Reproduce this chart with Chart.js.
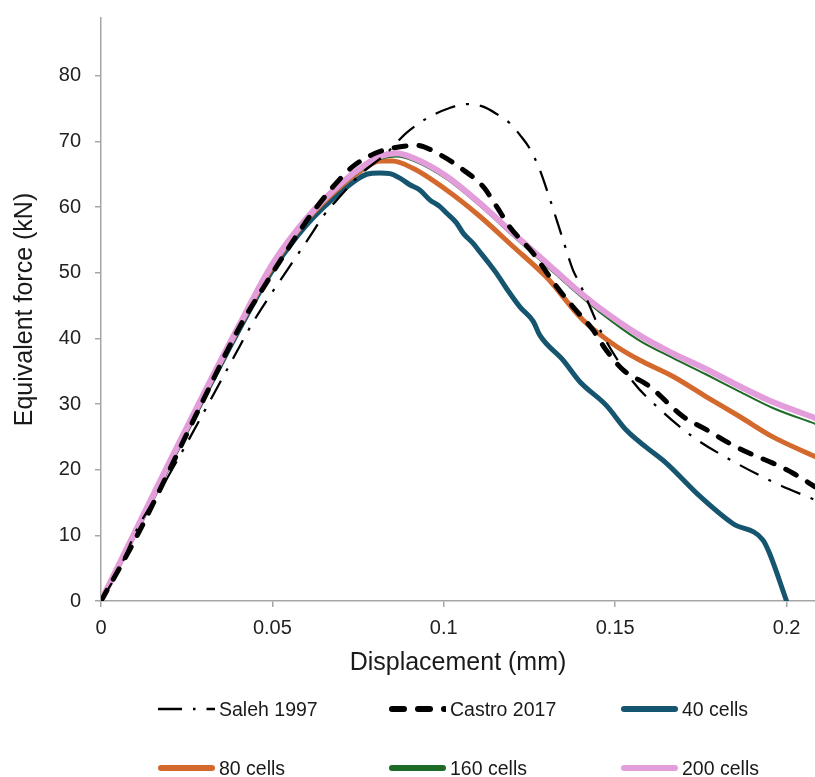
<!DOCTYPE html>
<html>
<head>
<meta charset="utf-8">
<script src="https://cdn.jsdelivr.net/npm/chart.js@4.4.1/dist/chart.umd.min.js"></script>
<style>
  html, body { margin: 0; padding: 0; background: #ffffff; }
  #wrap { position: relative; width: 815px; height: 777px; overflow: hidden; }
  #chart { position: absolute; left: 0; top: 0; }
  .lg { position: absolute; height: 24px; display: flex; align-items: center;
        font-family: "Liberation Sans", Arial, sans-serif;
        font-size: 19.5px; color: #1a1a1a; white-space: nowrap; }
  .lg svg { display: block; margin-right: 4px; }
</style>
</head>
<body>
<div id="wrap">
  <canvas id="chart" width="815" height="777"></canvas>
  <div id="legend"></div>
</div>
<script>
// Axis titles and tick labels
const xTitle = 'Displacement (mm)';
const yTitle = 'Equivalent force (kN)';
const xTickValues = [0, 0.05, 0.1, 0.15, 0.2];
const xTickLabels = ['0', '0.05', '0.1', '0.15', '0.2'];
const yTickValues = [0, 10, 20, 30, 40, 50, 60, 70, 80];
const yTickLabels = ['0', '10', '20', '30', '40', '50', '60', '70', '80'];

// Series names (legend order)
const seriesNames = ['Saleh 1997', 'Castro 2017', '40 cells', '80 cells', '160 cells', '200 cells'];

// Saleh 1997 (experiment)
const salehX = [0, 0.005, 0.0104, 0.0182, 0.025, 0.0386, 0.0444, 0.0551, 0.0609, 0.0648, 0.0697, 0.0755, 0.0833, 0.0891, 0.095, 0.1017, 0.1066, 0.1115, 0.1154, 0.1192, 0.1222, 0.1251, 0.128, 0.1304, 0.1329, 0.1348, 0.1377, 0.1397, 0.1435, 0.1455, 0.1552, 0.162, 0.1727, 0.1843, 0.197, 0.2083];
const salehY = [0, 4.5, 10.8, 17.7, 24.0, 37.0, 42.5, 51.0, 55.5, 58.6, 61.6, 64.9, 68.2, 71.3, 73.5, 75.1, 75.7, 75.3, 74.2, 72.8, 71.0, 68.9, 65.7, 62.1, 58.1, 55.0, 50.4, 48.3, 43.8, 41.4, 33.4, 29.7, 25.0, 21.3, 17.9, 15.4];

// Castro 2017
const castroX = [0, 0.0099, 0.0162, 0.0289, 0.0405, 0.0483, 0.0541, 0.0608, 0.0677, 0.0735, 0.08, 0.0852, 0.092, 0.0988, 0.1056, 0.1115, 0.1154, 0.1192, 0.126, 0.1329, 0.1377, 0.1435, 0.1474, 0.1523, 0.16, 0.1698, 0.1766, 0.1834, 0.1892, 0.196, 0.2018, 0.2083];
const castroY = [0, 9.3, 15.9, 29.6, 41.8, 48.5, 53.3, 58.5, 63.1, 66.2, 68.2, 69.0, 69.4, 68.0, 65.7, 63.1, 60.1, 57.0, 53.0, 47.9, 44.8, 41.3, 38.2, 35.2, 32.7, 28.1, 26.1, 24.0, 22.5, 21.0, 19.5, 17.4];

// 40 cells
const cells40X = [0, 0.01, 0.02, 0.03, 0.04, 0.05, 0.06, 0.07, 0.0775, 0.0813, 0.0843, 0.0872, 0.0901, 0.093, 0.0959, 0.0988, 0.1008, 0.1037, 0.1057, 0.1085, 0.1105, 0.1134, 0.1154, 0.1183, 0.1222, 0.1261, 0.128, 0.1348, 0.1397, 0.1474, 0.1533, 0.1591, 0.1649, 0.1746, 0.1843, 0.1931, 0.195, 0.2];
const cells40Y = [0, 10.4, 20.8, 31.0, 41.0, 50.3, 57.3, 62.3, 65.0, 65.2, 65.1, 64.4, 63.4, 62.6, 61.1, 60.1, 59.1, 57.6, 56.0, 54.5, 53.2, 51.3, 49.9, 47.6, 44.8, 42.6, 40.5, 36.7, 33.4, 29.8, 26.0, 23.4, 21.0, 16.0, 11.8, 9.3, 7.3, 0];

// 80 cells
const cells80X = [0, 0.01, 0.02, 0.03, 0.04, 0.05, 0.06, 0.07, 0.0775, 0.0813, 0.085, 0.091, 0.1008, 0.1105, 0.1202, 0.13, 0.1406, 0.1503, 0.1571, 0.1669, 0.1766, 0.1863, 0.196, 0.2083];
const cells80Y = [0, 10.5, 21.0, 31.3, 41.4, 50.9, 58.0, 63.2, 66.1, 67.0, 67.0, 65.9, 62.6, 58.6, 54.0, 49.3, 42.8, 38.8, 36.7, 34.2, 31.1, 28.1, 25.0, 22.0];

// 160 cells
const cells160X = [0, 0.01, 0.02, 0.03, 0.04, 0.05, 0.06, 0.07, 0.0775, 0.0813, 0.0862, 0.091, 0.1008, 0.1105, 0.1202, 0.13, 0.1377, 0.1455, 0.157, 0.1669, 0.1766, 0.1863, 0.196, 0.2083];
const cells160Y = [0, 10.5, 21.0, 31.4, 41.5, 51.0, 58.0, 63.2, 66.2, 67.3, 67.7, 67.1, 64.3, 60.2, 55.6, 51.0, 47.4, 44.0, 39.7, 37.0, 34.5, 31.9, 29.4, 27.0];

// 200 cells
const cells200X = [0, 0.01, 0.02, 0.03, 0.04, 0.05, 0.06, 0.07, 0.0775, 0.0813, 0.0862, 0.091, 0.1008, 0.1105, 0.1202, 0.13, 0.1377, 0.1455, 0.157, 0.1669, 0.1766, 0.1863, 0.196, 0.2083];
const cells200Y = [0, 10.6, 21.2, 31.6, 41.7, 51.3, 58.3, 63.6, 66.6, 67.7, 68.2, 67.5, 64.7, 60.6, 56.0, 51.5, 47.9, 44.6, 40.5, 37.7, 35.3, 32.7, 30.3, 27.9];

const pts = (xs, ys) => xs.map((x, i) => ({ x: x, y: ys[i] }));

// Line styles per series (same order as seriesNames)
const styles = [
  { color: '#000000', width: 2.25, dash: [21, 11, 3, 11], cap: 'butt',  legendDash: '24 11 2.5 11', legendWidth: 2.5, legendEnd: 57 },
  { color: '#000000', width: 5,    dash: [12, 13],        cap: 'round', legendDash: '12 14',        legendWidth: 6,   legendEnd: 55.5 },
  { color: '#15556f', width: 5,    dash: [],              cap: 'round', legendDash: '',             legendWidth: 6,   legendEnd: 54 },
  { color: '#d4692e', width: 5,    dash: [],              cap: 'round', legendDash: '',             legendWidth: 6,   legendEnd: 54 },
  { color: '#1d6b27', width: 2,    dash: [],              cap: 'round', legendDash: '',             legendWidth: 6,   legendEnd: 54 },
  { color: '#e39ddb', width: 6,    dash: [],              cap: 'round', legendDash: '',             legendWidth: 6,   legendEnd: 54 }
];

const seriesData = [
  pts(salehX, salehY),
  pts(castroX, castroY),
  pts(cells40X, cells40Y),
  pts(cells80X, cells80Y),
  pts(cells160X, cells160Y),
  pts(cells200X, cells200Y)
];

// Drawing order: first dataset in the list ends up on top
const drawOrder = [0, 1, 5, 4, 3, 2];
const datasets = drawOrder.map(i => ({
  label: seriesNames[i],
  data: seriesData[i],
  showLine: true,
  borderColor: styles[i].color,
  backgroundColor: styles[i].color,
  borderWidth: styles[i].width,
  borderDash: styles[i].dash,
  borderCapStyle: styles[i].cap,
  borderJoinStyle: 'round',
  cubicInterpolationMode: 'monotone',
  pointRadius: 0,
  fill: false
}));

const axisGrey = '#a6a6a6';
const tickFont = { family: 'Liberation Sans', size: 20 };
const titleFont = { family: 'Liberation Sans', size: 25 };

new Chart(document.getElementById('chart'), {
  type: 'scatter',
  data: { datasets: datasets },
  options: {
    responsive: false,
    animation: false,
    devicePixelRatio: 1,
    layout: { padding: { left: 0, right: 0, top: 18, bottom: 96 } },
    plugins: { legend: { display: false }, tooltip: { enabled: false } },
    scales: {
      x: {
        type: 'linear', min: 0, max: 0.2083,
        afterBuildTicks: s => { s.ticks = xTickValues.map(v => ({ value: v })); },
        afterFit: s => { s.height = 80; },
        ticks: { padding: 9, font: tickFont, color: '#222222', maxRotation: 0, autoSkip: false,
                 callback: (v, i) => xTickLabels[i] },
        grid: { display: true, drawOnChartArea: false, drawTicks: true, tickLength: 6, color: axisGrey, lineWidth: 1.5 },
        border: { display: true, color: axisGrey, width: 1.5 },
        title: { display: true, text: xTitle, font: titleFont, color: '#1a1a1a', padding: { top: 0, bottom: 3 } }
      },
      y: {
        type: 'linear', min: 0, max: 88.8,
        afterBuildTicks: s => { s.ticks = yTickValues.map(v => ({ value: v })); },
        afterFit: s => { s.width = 101; s.paddingTop = 0; s.paddingBottom = 0; },
        ticks: { padding: 14, font: tickFont, color: '#222222', autoSkip: false,
                 callback: (v, i) => yTickLabels[i] },
        grid: { display: true, drawOnChartArea: false, drawTicks: true, tickLength: 6, color: axisGrey, lineWidth: 1.5 },
        border: { display: true, color: axisGrey, width: 1.5 },
        title: { display: true, text: yTitle, font: titleFont, color: '#1a1a1a', padding: { top: 10, bottom: 0 } }
      }
    }
  }
});

// Legend: three columns, two rows below the plot
const legendCols = [158, 389, 621];
const legendRows = [709, 768];
const sampleLen = 57;
const legendEl = document.getElementById('legend');
seriesNames.forEach((name, i) => {
  const st = styles[i];
  const item = document.createElement('div');
  item.className = 'lg';
  item.style.left = legendCols[i % 3] + 'px';
  item.style.top = (legendRows[Math.floor(i / 3)] - 12) + 'px';
  const ns = 'http://www.w3.org/2000/svg';
  const svg = document.createElementNS(ns, 'svg');
  svg.setAttribute('width', sampleLen);
  svg.setAttribute('height', '12');
  const ln = document.createElementNS(ns, 'line');
  const inset = st.cap === 'round' ? st.legendWidth / 2 : 0;
  ln.setAttribute('x1', inset);
  ln.setAttribute('x2', st.legendEnd);
  ln.setAttribute('y1', '6');
  ln.setAttribute('y2', '6');
  ln.setAttribute('stroke', st.color);
  ln.setAttribute('stroke-width', st.legendWidth);
  ln.setAttribute('stroke-linecap', st.cap);
  if (st.legendDash) ln.setAttribute('stroke-dasharray', st.legendDash);
  svg.appendChild(ln);
  const txt = document.createElement('span');
  txt.textContent = name;
  item.appendChild(svg);
  item.appendChild(txt);
  legendEl.appendChild(item);
});
</script>
</body>
</html>
